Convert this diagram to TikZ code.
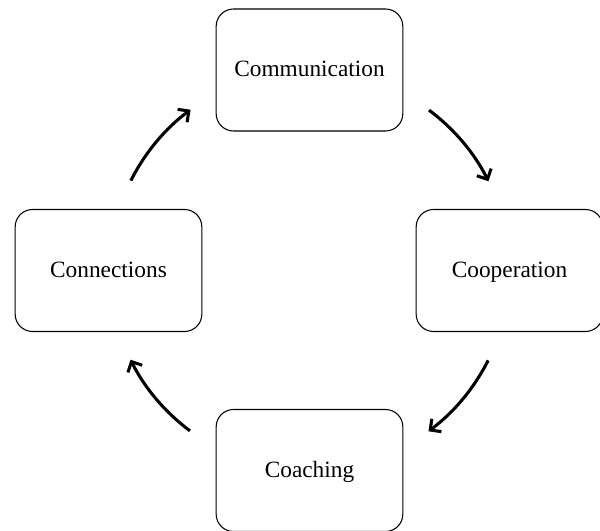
\documentclass[tikz,border=0pt]{standalone}
\usepackage{fontspec}
\setmainfont{Liberation Serif}
\usetikzlibrary{arrows.meta}
\begin{document}
\begin{tikzpicture}[x=0.75pt,y=0.75pt,
  box/.style={draw, rounded corners=13pt, minimum width=140pt, minimum height=91.5pt,
    line width=0.8pt, inner sep=0pt, text height=13pt, text depth=2.5pt,
    font=\fontsize{17.5}{20}\selectfont},
  cyc/.style={line width=2.3pt, -{Straight Barb[length=6pt,width=12pt,line width=2.3pt]}}]
\useasboundingbox (0,0) rectangle (600,531);
\node[box] (comm) at (309.5,461) {Communication};
\node[box] (coop) at (509.5,260.5) {Cooperation};
\node[box] (conn) at (108.5,260.5) {Connections};
\node[box] (coach) at (309.5,60.5) {Coaching};
\coordinate (c) at (309.5,260.5);
\coordinate (a1) at ([shift={(53.3:200)}]c);
\coordinate (a2) at ([shift={(-26.7:200)}]c);
\coordinate (a3) at ([shift={(-126.7:200)}]c);
\coordinate (a4) at ([shift={(153.3:200)}]c);
\draw[cyc] (a1) arc[start angle=53.3, end angle=26.5, radius=200];
\draw[cyc] (a2) arc[start angle=-26.7, end angle=-53.5, radius=200];
\draw[cyc] (a3) arc[start angle=-126.7, end angle=-153.5, radius=200];
\draw[cyc] (a4) arc[start angle=153.3, end angle=126.5, radius=200];
\end{tikzpicture}
\end{document}
